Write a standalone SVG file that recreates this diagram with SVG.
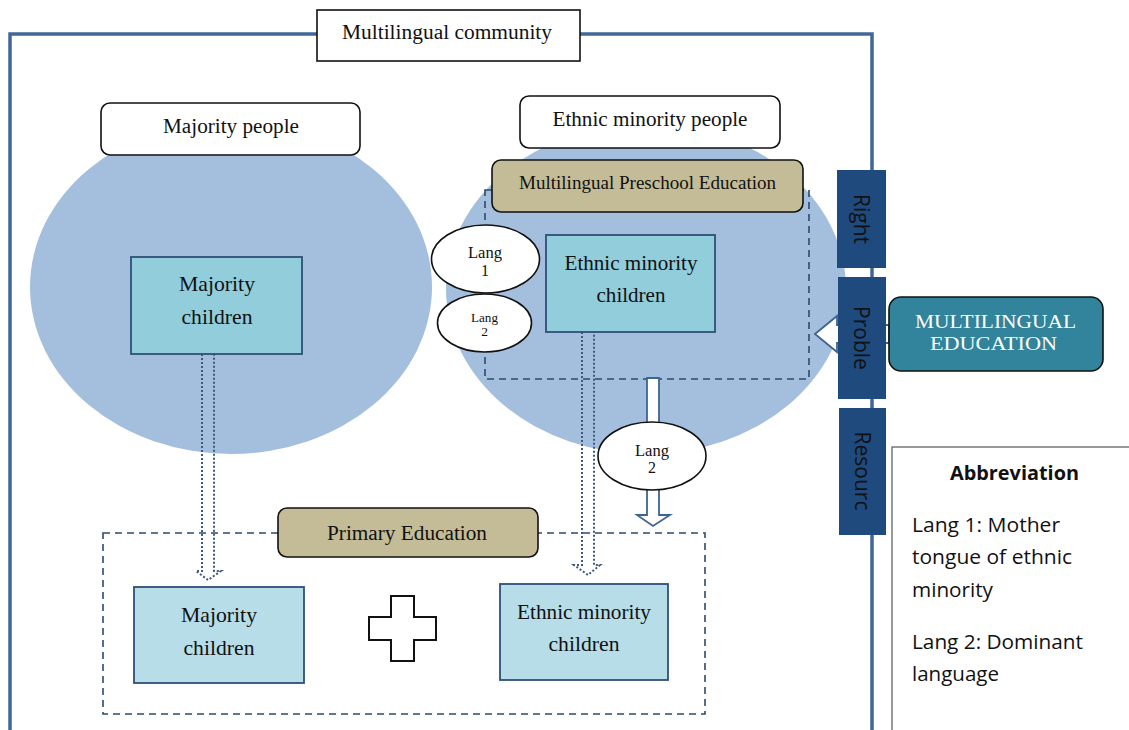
<svg xmlns="http://www.w3.org/2000/svg" width="1129" height="730" viewBox="0 0 1129 730">
<style>
.serif{font-family:"Liberation Serif","Times New Roman",serif;fill:#111;text-anchor:middle}
.sans{font-family:"Open Sans","Liberation Sans",sans-serif;fill:#111}
.label{fill:#fff;stroke:#111;stroke-width:1.6}
.khaki{fill:#c4bc96;stroke:#111;stroke-width:1.6}
.child1{fill:#92cddc;stroke:#2f4f78;stroke-width:1.8}
.child2{fill:#b7dde8;stroke:#2f4f78;stroke-width:1.8}
.dash{fill:none;stroke:#2c4a6e;stroke-width:1.6;stroke-dasharray:7,5}
.dot{fill:none;stroke:#3d5a80;stroke-width:2;stroke-dasharray:2,2}
.hollow{fill:#fff;stroke:#3e6494;stroke-width:1.8}
.navy{fill:#1f4a7e}
.lang{fill:#fff;stroke:#111;stroke-width:1.6}
</style>
<rect width="1129" height="730" fill="#fff"/>
<g id="frame">
<rect x="10" y="34" width="862" height="740" fill="none" stroke="#41679a" stroke-width="3.5"/>
</g>
<g id="majority-circle"><ellipse cx="231" cy="287" rx="201" ry="167" fill="#a4bedd"/></g>
<g id="minority-circle"><ellipse cx="646" cy="289" rx="200" ry="165" fill="#a4bedd"/></g>
<g id="community"><rect x="317" y="10" width="263" height="51" class="label"/><text x="447" y="39" class="serif" font-size="20" textLength="210" lengthAdjust="spacingAndGlyphs">Multilingual community</text></g>
<g id="majority-people"><rect x="101" y="103" width="259" height="52" rx="9" class="label"/><text x="231" y="133" class="serif" font-size="20" textLength="136" lengthAdjust="spacingAndGlyphs">Majority people</text></g>
<g id="minority-people"><rect x="520" y="96" width="260" height="52" rx="9" class="label"/><text x="650" y="126" class="serif" font-size="20" textLength="195" lengthAdjust="spacingAndGlyphs">Ethnic minority people</text></g>
<g id="preschool-area"><rect x="485" y="190" width="324" height="189" class="dash"/></g>
<g id="primary-area"><rect x="103" y="533" width="602" height="181" class="dash"/></g>
<g id="connectors">
<path class="dot" d="M202,354 V571 L196,571 L208,580 L221,571 L214,571 V354"/>
<path class="dot" d="M582,332 V565 L574,565 L588,575 L600,565 L594,565 V332"/>
<polygon class="hollow" points="647,378 659,378 659,515 670,515 653,526 637,515 647,515"/>
<polygon class="hollow" points="815,334 837,316 837,325 889,325 889,343 837,343 837,352"/>
</g>
<g id="preschool"><rect x="492" y="160" width="311" height="52" rx="9" class="khaki"/><text x="647.5" y="189" class="serif" font-size="18" textLength="257" lengthAdjust="spacingAndGlyphs">Multilingual Preschool Education</text></g>
<g id="majority-children-top"><rect x="131" y="257" width="171" height="97" class="child1"/><text x="217" y="291" class="serif" font-size="21" textLength="76" lengthAdjust="spacingAndGlyphs">Majority</text><text x="217" y="324" class="serif" font-size="21" textLength="71" lengthAdjust="spacingAndGlyphs">children</text></g>
<g id="minority-children-top"><rect x="546" y="235" width="169" height="97" class="child1"/><text x="631" y="270" class="serif" font-size="20" textLength="133" lengthAdjust="spacingAndGlyphs">Ethnic minority</text><text x="631" y="302" class="serif" font-size="20" textLength="69" lengthAdjust="spacingAndGlyphs">children</text></g>
<g id="lang1"><ellipse cx="485.5" cy="259" rx="54" ry="34" class="lang"/><text x="485" y="258" class="serif" font-size="16" textLength="34" lengthAdjust="spacingAndGlyphs">Lang</text><text x="485" y="276" class="serif" font-size="16">1</text></g>
<g id="lang2-left"><ellipse cx="484.5" cy="323" rx="47" ry="29" class="lang"/><text x="484.5" y="322" class="serif" font-size="13.5" textLength="27" lengthAdjust="spacingAndGlyphs">Lang</text><text x="484.5" y="336" class="serif" font-size="13.5">2</text></g>
<g id="lang2-bottom"><ellipse cx="652" cy="456" rx="54" ry="34" class="lang"/><text x="652" y="456" class="serif" font-size="16" textLength="34" lengthAdjust="spacingAndGlyphs">Lang</text><text x="652" y="473" class="serif" font-size="16">2</text></g>
<g id="primary"><rect x="278" y="508" width="260" height="49" rx="9" class="khaki"/><text x="407" y="540" class="serif" font-size="20" textLength="160" lengthAdjust="spacingAndGlyphs">Primary Education</text></g>
<g id="majority-children-bottom"><rect x="134" y="587" width="170" height="96" class="child2"/><text x="219" y="622" class="serif" font-size="21" textLength="76" lengthAdjust="spacingAndGlyphs">Majority</text><text x="219" y="655" class="serif" font-size="21" textLength="71" lengthAdjust="spacingAndGlyphs">children</text></g>
<g id="plus"><polygon points="391,596 414,596 414,617 436,617 436,640 414,640 414,661 391,661 391,640 369,640 369,617 391,617" fill="#fff" stroke="#111" stroke-width="2"/></g>
<g id="minority-children-bottom"><rect x="500" y="584" width="168" height="96" class="child2"/><text x="584" y="619" class="serif" font-size="20" textLength="134" lengthAdjust="spacingAndGlyphs">Ethnic minority</text><text x="584" y="651" class="serif" font-size="20" textLength="71" lengthAdjust="spacingAndGlyphs">children</text></g>
<g id="right"><rect x="837" y="170" width="49" height="98" class="navy"/><text transform="translate(861.5,219) rotate(90)" class="sans" font-size="21" text-anchor="middle" dy="7.5">Right</text></g>
<g id="proble"><rect x="838" y="277" width="48" height="122" class="navy"/><text transform="translate(861.5,338) rotate(90)" class="sans" font-size="21" text-anchor="middle" dy="7.5">Proble</text></g>
<g id="resourc"><rect x="839" y="408" width="47" height="127" class="navy"/><text transform="translate(862,471) rotate(90)" class="sans" font-size="21" text-anchor="middle" dy="7.5">Resourc</text></g>
<g id="multilingual-education"><rect x="889" y="297" width="214" height="74" rx="12" fill="#31849b" stroke="#111" stroke-width="1.6"/><text x="995.5" y="328" class="serif" style="fill:#fff" font-size="18" textLength="161" lengthAdjust="spacingAndGlyphs">MULTILINGUAL</text><text x="993.5" y="350" class="serif" style="fill:#fff" font-size="18" textLength="127" lengthAdjust="spacingAndGlyphs">EDUCATION</text></g>
<g id="abbreviation"><rect x="892" y="447" width="250" height="300" fill="#fff" stroke="#555" stroke-width="1.2"/>
<text x="1014.5" y="480" class="sans" font-size="20" font-weight="bold" text-anchor="middle" textLength="129" lengthAdjust="spacingAndGlyphs">Abbreviation</text>
<text x="912" y="532" class="sans" font-size="20" textLength="148" lengthAdjust="spacingAndGlyphs">Lang 1: Mother</text>
<text x="912" y="564" class="sans" font-size="20" textLength="160" lengthAdjust="spacingAndGlyphs">tongue of ethnic</text>
<text x="912" y="597" class="sans" font-size="20" textLength="81" lengthAdjust="spacingAndGlyphs">minority</text>
<text x="912" y="649" class="sans" font-size="20" textLength="171" lengthAdjust="spacingAndGlyphs">Lang 2: Dominant</text>
<text x="912" y="681" class="sans" font-size="20" textLength="87" lengthAdjust="spacingAndGlyphs">language</text>
</g>
</svg>
